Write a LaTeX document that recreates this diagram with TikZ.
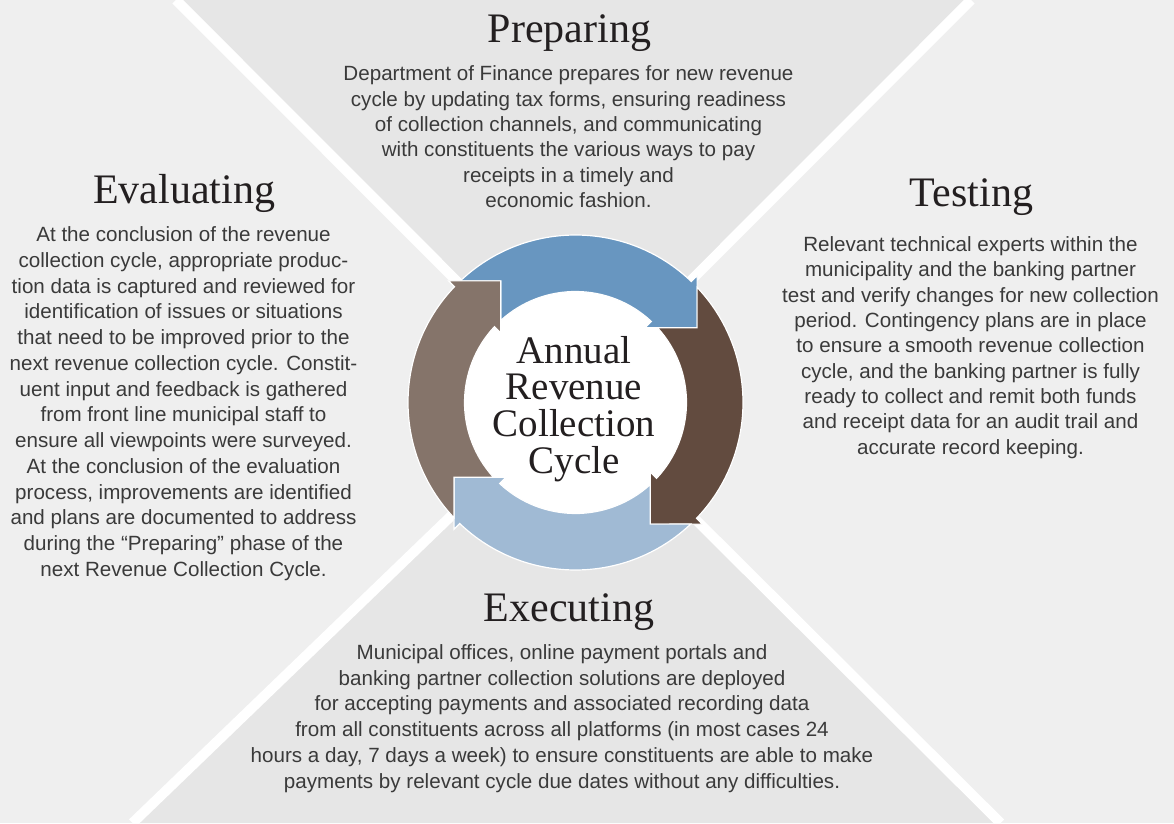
\documentclass[tikz,border=0pt]{standalone}
\usepackage{fontspec}
\setmainfont{Liberation Sans}
\newfontfamily\headfont{Liberation Serif}
\definecolor{lightbg}{HTML}{EFEFEF}
\definecolor{darkbg}{HTML}{E6E6E6}
\definecolor{arrblue}{HTML}{6896C0}
\definecolor{arrbrown}{HTML}{624B3F}
\definecolor{arrlight}{HTML}{A0BAD4}
\definecolor{arrgrey}{HTML}{85746A}
\definecolor{bodycol}{HTML}{3A3A3A}
\definecolor{headcol}{HTML}{231F20}
\newcommand\cblock[1]{\vtop{\halign{\hfil##\hfil\cr#1\crcr}}}
\newcommand\cyclearrow[2]{%
  \filldraw[fill=#1, draw=white, line width=1.2pt, line join=miter,
    shift={(575.5,420.5)}, rotate=#2]
    (133.45:167.5pt) arc[start angle=133.45, end angle=46.26, radius=167.5pt]
    -- (121.6,126.8) -- (121.6,74.8) -- (69.6,74.8)
    -- (46.9:111pt) arc[start angle=46.9, end angle=132.37, radius=111pt]
    -- (-74.8,121.6) -- cycle;}
\tikzset{
  bodytext/.style={font=\fontsize{20.6}{#1}\selectfont, text=bodycol, inner sep=0pt, anchor=base},
  bodytext/.default=25.5,
  headtext/.style={font=\headfont\fontsize{42}{42}\selectfont, text=headcol, inner sep=0pt, anchor=base},
  centertext/.style={font=\headfont\fontsize{39}{36.6}\selectfont, text=headcol, inner sep=0pt, anchor=base},
  xline/.style={white, line width=10pt}
}
\begin{document}
\begin{tikzpicture}[x=1pt,y=1pt]
\useasboundingbox (0,0) rectangle (1174,823);
% background quadrants
\coordinate (X0) at (573.5,425);
\coordinate (TL) at (176,823);
\coordinate (TR) at (971,823);
\coordinate (BL) at (132.5,0);
\coordinate (BR) at (1000.5,0);
\coordinate (C) at (575.5,420.5);
\fill[lightbg] (0,0) rectangle (1174,823);
\fill[darkbg] (TL) -- (TR) -- (X0) -- cycle;
\fill[darkbg] (BL) -- (BR) -- (X0) -- cycle;
\draw[xline] (X0) -- (TL);
\draw[xline] (X0) -- (TR);
\draw[xline] (X0) -- (BL);
\draw[xline] (X0) -- (BR);
% cycle
\fill[white] (C) circle (111pt);
\cyclearrow{arrblue}{0}
\cyclearrow{arrbrown}{-90}
\cyclearrow{arrlight}{-180}
\cyclearrow{arrgrey}{-270}
\node[centertext] (title) at (574,459.7) {\cblock{Annual\cr Revenue\cr Collection\cr Cycle}};
% Preparing
\node[headtext] (prephead) at (569.5,780.3) {Preparing};
\node[bodytext=25.3] (prepbody) at (568.5,742) {\cblock{Department of Finance prepares for new revenue\cr
cycle by updating tax forms, ensuring readiness\cr
of collection channels, and communicating\cr
with constituents the various ways to pay\cr
receipts in a timely and\cr
economic fashion.}};
% Evaluating
\node[headtext] (evalhead) at (184,619) {Evaluating};
\node[bodytext=25.75] (evalbody) at (183.5,581.3) {\cblock{At the conclusion of the revenue\cr
collection cycle, appropriate produc-\cr
tion data is captured and reviewed for\cr
identification of issues or situations\cr
that need to be improved prior to the\cr
next revenue collection cycle. Constit-\cr
uent input and feedback is gathered\cr
from front line municipal staff to\cr
ensure all viewpoints were surveyed.\cr
At the conclusion of the evaluation\cr
process, improvements are identified\cr
and plans are documented to address\cr
during the “Preparing” phase of the\cr
next Revenue Collection Cycle.}};
% Testing
\node[headtext] (testhead) at (971.5,616.3) {Testing};
\node[bodytext=25.3] (testbody) at (970.5,571.3) {\cblock{Relevant technical experts within the\cr
municipality and the banking partner\cr
test and verify changes for new collection\cr
period. Contingency plans are in place\cr
to ensure a smooth revenue collection\cr
cycle, and the banking partner is fully\cr
ready to collect and remit both funds\cr
and receipt data for an audit trail and\cr
accurate record keeping.}};
% Executing
\node[headtext] (exechead) at (569,201.3) {Executing};
\node[bodytext=25.8] (execbody) at (562,163.7) {\cblock{Municipal offices, online payment portals and\cr
banking partner collection solutions are deployed\cr
for accepting payments and associated recording data\cr
from all constituents across all platforms (in most cases 24\cr
hours a day, 7 days a week) to ensure constituents are able to make\cr
payments by relevant cycle due dates without any difficulties.}};
\end{tikzpicture}
\end{document}
